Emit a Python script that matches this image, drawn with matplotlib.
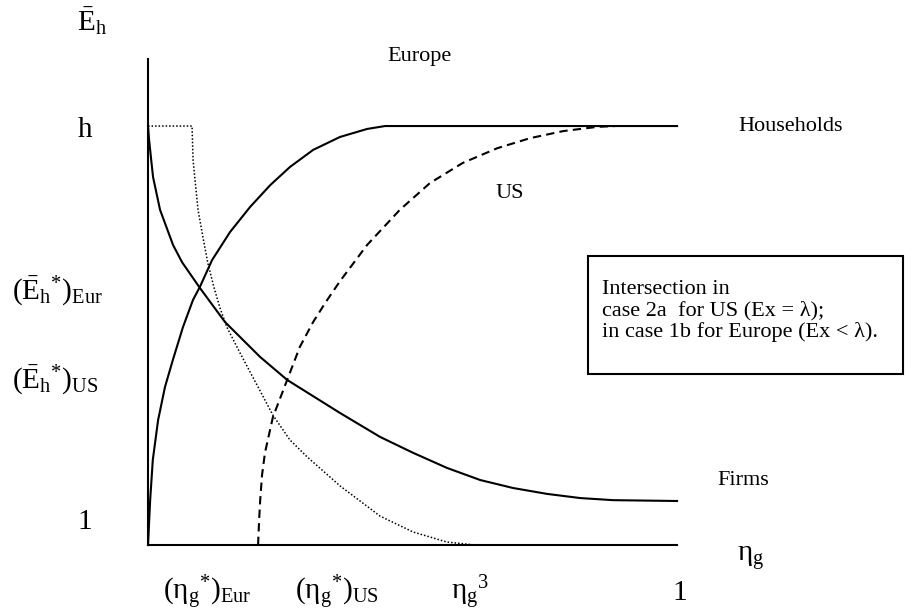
import matplotlib
matplotlib.use('Agg')
import matplotlib.pyplot as plt
from matplotlib.patches import Rectangle

# eta_g runs 0..1 along the x axis, E_h is scaled so 1 -> 0 and h -> 1
ETA_EUR = [0, 0.004, 0.009, 0.019, 0.032, 0.047, 0.066, 0.085, 0.098, 0.121,
           0.155, 0.193, 0.231, 0.268, 0.312, 0.363, 0.414, 0.448, 1.0]
E_EUR = [0, 0.107, 0.203, 0.298, 0.377, 0.442, 0.520, 0.585, 0.616, 0.680,
         0.747, 0.807, 0.859, 0.902, 0.943, 0.974, 0.993, 1.0, 1.0]

ETA_US = [0.208, 0.210, 0.212, 0.2155, 0.221, 0.236, 0.263, 0.287, 0.312, 0.335,
          0.363, 0.414, 0.476, 0.533, 0.595, 0.660, 0.722, 0.785, 0.849, 0.883]
E_US = [0, 0.060, 0.107, 0.167, 0.220, 0.305, 0.394, 0.473, 0.532, 0.578,
        0.630, 0.716, 0.800, 0.864, 0.912, 0.947, 0.971, 0.988, 0.998, 1.0]

ETA_FIRMS = [0, 0.002, 0.006, 0.0095, 0.0227, 0.0473, 0.0643, 0.0983, 0.1456,
             0.2117, 0.263, 0.363, 0.4386, 0.501, 0.565, 0.628, 0.690, 0.754,
             0.817, 0.879, 1.0]
E_FIRMS = [1.0, 0.967, 0.919, 0.878, 0.800, 0.716, 0.675, 0.613, 0.532,
           0.449, 0.394, 0.315, 0.258, 0.220, 0.184, 0.155, 0.136, 0.122,
           0.112, 0.107, 0.105]

ETA_DOT = [0, 0.0832, 0.0851, 0.0898, 0.0945, 0.104, 0.113, 0.125, 0.136,
           0.149, 0.174, 0.208, 0.236, 0.268, 0.301, 0.363, 0.4386, 0.501,
           0.565, 0.618]
E_DOT = [1.0, 1.0, 0.919, 0.859, 0.800, 0.733, 0.673, 0.613, 0.566,
         0.520, 0.458, 0.377, 0.310, 0.251, 0.210, 0.141, 0.069, 0.031,
         0.007, 0.0]

BOX_LINES = ['Intersection in',
             'case 2a  for US (Ex = \u03bb);',
             'in case 1b for Europe (Ex < \u03bb).']

plt.rcParams['font.family'] = ['Liberation Serif', 'DejaVu Serif']
plt.rcParams['mathtext.fontset'] = 'custom'
plt.rcParams['mathtext.rm'] = 'Liberation Serif'
plt.rcParams['mathtext.it'] = 'Liberation Serif:italic'
plt.rcParams['mathtext.bf'] = 'Liberation Serif:bold'


def main():
    fig = plt.figure(figsize=(9.11, 6.14), dpi=100)
    ax = fig.add_axes([0.1625, 0.1124, 0.5807, 0.7915])
    ax.set_xlim(0, 1)
    ax.set_ylim(0, 1.16)
    for side in ('top', 'right'):
        ax.spines[side].set_visible(False)
    for side in ('left', 'bottom'):
        ax.spines[side].set_linewidth(1.5)
    ax.set_xticks([])
    ax.set_yticks([])

    ax.plot(ETA_EUR, E_EUR, 'k-', lw=1.5, clip_on=False)
    ax.plot(ETA_US, E_US, color='k', lw=1.5, linestyle=(0, (4, 2.5)),
            clip_on=False)
    ax.plot(ETA_FIRMS, E_FIRMS, 'k-', lw=1.5, clip_on=False)
    ax.plot(ETA_DOT, E_DOT, color='k', lw=1.1, linestyle=(0, (1, 1.3)),
            clip_on=False)

    big = 21
    small = 16
    kw = dict(clip_on=False, color='k')

    # y axis labels
    ax.text(-0.106, 1.25, r'$\mathrm{\bar{E}_h}$', fontsize=big,
            ha='center', va='center', **kw)
    ax.text(-0.119, 0.99, 'h', fontsize=big, ha='center', va='center', **kw)
    ax.text(-0.257, 0.605, r'$(\mathrm{\bar{E}_h}{}^{*})_{\mathrm{Eur}}$',
            fontsize=big, ha='left', va='center', **kw)
    ax.text(-0.257, 0.392, r'$(\mathrm{\bar{E}_h}{}^{*})_{\mathrm{US}}$',
            fontsize=big, ha='left', va='center', **kw)
    ax.text(-0.119, 0.055, '1', fontsize=big, ha='center', va='center', **kw)

    # x axis labels
    ylab = -0.115
    ax.text(0.112, ylab, r'$(\mathrm{\eta_g}{}^{*})_{\mathrm{Eur}}$',
            fontsize=big, ha='center', va='center', **kw)
    ax.text(0.357, ylab, r'$(\mathrm{\eta_g}{}^{*})_{\mathrm{US}}$',
            fontsize=big, ha='center', va='center', **kw)
    ax.text(0.609, ylab, r'$\mathrm{\eta_g}{}^{\mathrm{3}}$',
            fontsize=big, ha='center', va='center', **kw)
    ax.text(1.006, ylab, '1', fontsize=big, ha='center', va='center', **kw)
    ax.text(1.113, -0.03, r'$\mathrm{\eta_g}$', fontsize=big,
            ha='left', va='center', **kw)

    # curve names
    ax.text(0.514, 1.167, 'Europe', fontsize=small, ha='center',
            va='center', **kw)
    ax.text(0.684, 0.840, 'US', fontsize=small, ha='center', va='center', **kw)
    ax.text(1.115, 0.998, 'Households', fontsize=small, ha='left',
            va='center', **kw)
    ax.text(1.0756, 0.155, 'Firms', fontsize=small, ha='left',
            va='center', **kw)

    # annotation box
    ax.add_patch(Rectangle((0.832, 0.408), 0.595, 0.282, fill=False,
                           lw=1.5, edgecolor='k', clip_on=False))
    ax.text(0.858, 0.558, '\n'.join(BOX_LINES), fontsize=small, ha='left',
            va='center', linespacing=1.12, **kw)

    fig.savefig('out.png', dpi=100)


if __name__ == "__main__":
    main()
